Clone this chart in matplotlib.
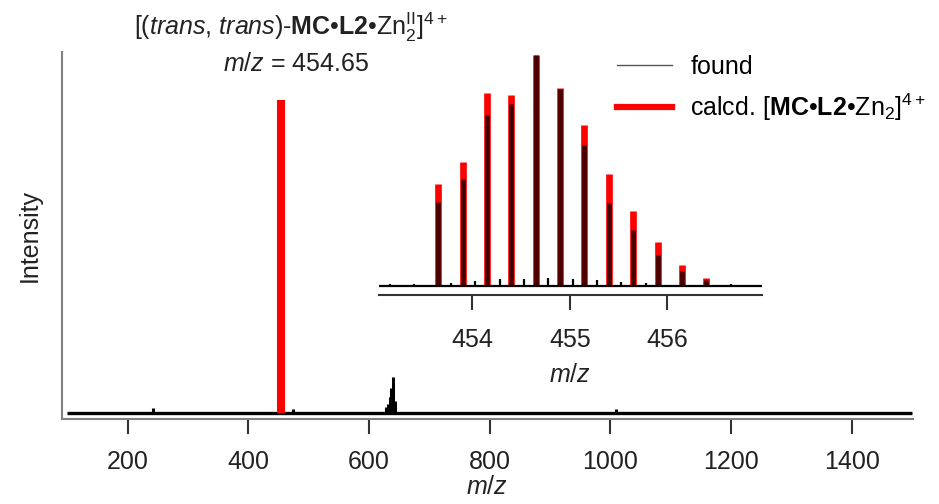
import numpy as np
import matplotlib
matplotlib.use("Agg")
import matplotlib.pyplot as plt
from matplotlib.lines import Line2D

plt.rcParams['font.family'] = ['Liberation Sans', 'DejaVu Sans']
plt.rcParams['mathtext.fontset'] = 'custom'
plt.rcParams['mathtext.rm'] = 'Liberation Sans'
plt.rcParams['mathtext.it'] = 'Liberation Sans:italic'
plt.rcParams['mathtext.bf'] = 'Liberation Sans:bold'

# full spectrum (found)
found_mz = [242, 454.65, 474, 628, 631, 634, 637, 640, 643, 1009]
found_int = [0.015, 0.85, 0.012, 0.02, 0.03, 0.05, 0.08, 0.115, 0.04, 0.013]
calc_main_mz = [454.65]
calc_main_int = [1.0]

# isotope pattern (zoom)
iso_mz = [453.65, 453.90, 454.15, 454.40, 454.65, 454.90,
          455.15, 455.40, 455.65, 455.90, 456.15, 456.40]
calc_int = [0.44, 0.536, 0.836, 0.826, 1.0, 0.856,
            0.696, 0.486, 0.326, 0.189, 0.089, 0.036]
found_iso = [0.364, 0.464, 0.739, 0.786, 1.0, 0.85,
             0.61, 0.357, 0.243, 0.136, 0.064, 0.024]
noise_mz = [453.15, 453.40, 453.78, 454.03, 454.28, 454.53,
            454.78, 455.03, 455.28, 455.53, 455.78, 456.65]
noise_int = [0.009, 0.008, 0.014, 0.02, 0.03, 0.03,
             0.035, 0.028, 0.025, 0.017, 0.011, 0.009]

main_ticks = [200, 400, 600, 800, 1000, 1200, 1400]
inset_ticks = [454, 455, 456]
legend_labels = ['found', r'calcd. [$\mathbf{MC}$•$\mathbf{L2}$•Zn$_2$]$^{4+}$']

fs = 18
fig = plt.figure(figsize=(9.39, 5.04), dpi=100)

# main axes
ax = fig.add_axes([0.0657, 0.1687, 0.9066, 0.728])
ax.hlines(0, 99, 1500, color='black', lw=2.4, zorder=2)
ax.vlines(found_mz, 0, found_int, color='black', lw=2.2, zorder=2)
ax.vlines(calc_main_mz, 0, calc_main_int, color='#ff0000', lw=5.8, zorder=3)
ax.set_xlim(90.6, 1501.6)
ax.set_ylim(-0.019, 1.153)
ax.set_xticks(main_ticks)
ax.set_yticks([])
ax.spines[['top', 'right']].set_visible(False)
for s in ['left', 'bottom']:
    ax.spines[s].set_color('#808080')
    ax.spines[s].set_linewidth(1.5)
ax.tick_params(axis='x', direction='out', length=11, width=1.5,
               color='#333333', labelsize=fs, pad=11, labelcolor='#222222')
ax.set_xlabel(r'$\it{m/z}$', fontsize=fs, labelpad=1, color='#222222')
ax.set_ylabel('Intensity', fontsize=fs, labelpad=14, color='#222222')

fig.text(0.310, 0.946,
         r'[($\it{trans}$, $\it{trans)}$-$\mathbf{MC}$•$\mathbf{L2}$•Zn$^{\rm II}_{2}$]$^{4+}$',
         ha='center', va='center', fontsize=fs, color='#222222')
fig.text(0.315, 0.874, r'$\it{m/z}$ = 454.65', ha='center', va='center',
         fontsize=fs, color='#222222')

handles = [Line2D([], [], color='#555555', lw=1.0),
           Line2D([], [], color='#ff0000', lw=4.5)]
ax.legend(handles, legend_labels, loc='upper left',
          bbox_to_anchor=(0.6568, 0.891), bbox_transform=fig.transFigure,
          frameon=False, fontsize=fs, handlelength=2.2, handletextpad=0.75,
          labelspacing=0.5, borderpad=0, borderaxespad=0)

# inset
ins = fig.add_axes([0.4036, 0.4147, 0.4076, 0.486])
ins.patch.set_alpha(0)
ins.vlines(iso_mz, 0, calc_int, color='#ff0000', lw=4.8, zorder=2)
ins.hlines(0, 453.04, 456.97, color='black', lw=1.6, zorder=3)
ins.vlines(iso_mz, 0, found_iso, color='#150000', lw=3.4, alpha=0.8, zorder=3)
ins.vlines(noise_mz, 0, noise_int, color='black', lw=1.6, zorder=3)
ins.set_xlim(453.04, 456.97)
ins.set_ylim(-0.039, 1.02)
ins.set_xticks(inset_ticks)
ins.set_yticks([])
ins.spines[['top', 'right', 'left']].set_visible(False)
ins.spines['bottom'].set_color('#333333')
ins.spines['bottom'].set_linewidth(1.5)
ins.tick_params(axis='x', direction='out', length=11, width=1.5,
                color='#333333', labelsize=fs, pad=13, labelcolor='#222222')
ins.set_xlabel(r'$\it{m/z}$', fontsize=fs, labelpad=8, color='#222222')

fig.savefig('out.png', dpi=100)
